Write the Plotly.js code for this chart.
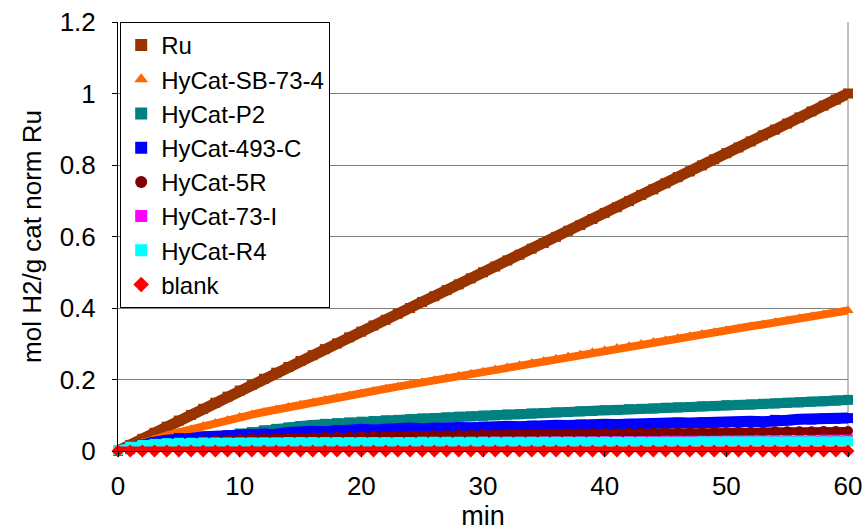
<!DOCTYPE html>
<html>
<head>
<meta charset="utf-8">
<script src="https://cdn.plot.ly/plotly-3.0.1.min.js"></script>
<style>html,body{margin:0;padding:0;background:#fff;}#chart{width:866px;height:531px;}</style>
</head>
<body>
<div id="chart"></div>
<script>
const minutes = [0,1,2,3,4,5,6,7,8,9,10,11,12,13,14,15,16,17,18,19,20,21,22,23,24,25,26,27,28,29,30,31,32,33,34,35,36,37,38,39,40,41,42,43,44,45,46,47,48,49,50,51,52,53,54,55,56,57,58,59,60];

const seriesNames = ["Ru","HyCat-SB-73-4","HyCat-P2","HyCat-493-C","HyCat-5R","HyCat-73-I","HyCat-R4","blank"];

const ru = [0,0.017,0.034,0.051,0.068,0.085,0.101,0.118,0.135,0.152,0.169,0.185,0.202,0.219,0.235,0.252,0.268,0.285,0.301,0.318,0.334,0.351,0.367,0.384,0.400,0.417,0.433,0.450,0.466,0.483,0.500,0.516,0.533,0.549,0.566,0.582,0.599,0.616,0.632,0.649,0.666,0.682,0.699,0.716,0.732,0.749,0.766,0.782,0.799,0.816,0.833,0.849,0.866,0.883,0.899,0.916,0.933,0.950,0.966,0.983,1.000];

const sb73 = [0,0.012,0.023,0.033,0.043,0.052,0.061,0.070,0.078,0.087,0.095,0.102,0.109,0.116,0.123,0.130,0.136,0.143,0.149,0.155,0.161,0.168,0.174,0.180,0.186,0.192,0.198,0.204,0.210,0.216,0.222,0.228,0.234,0.240,0.246,0.252,0.258,0.264,0.270,0.276,0.282,0.288,0.293,0.299,0.305,0.310,0.316,0.321,0.327,0.332,0.338,0.343,0.349,0.354,0.360,0.365,0.371,0.376,0.382,0.387,0.393];

const p2 = [0,0.005,0.010,0.015,0.020,0.025,0.030,0.035,0.040,0.044,0.049,0.053,0.058,0.062,0.066,0.070,0.073,0.076,0.078,0.080,0.082,0.084,0.086,0.087,0.089,0.091,0.092,0.094,0.096,0.097,0.099,0.100,0.102,0.103,0.105,0.106,0.108,0.109,0.111,0.112,0.114,0.115,0.117,0.118,0.119,0.121,0.122,0.123,0.125,0.126,0.128,0.129,0.130,0.132,0.133,0.135,0.136,0.138,0.139,0.141,0.143];

const c493 = [0,0.010,0.018,0.025,0.030,0.036,0.035,0.040,0.038,0.043,0.045,0.044,0.049,0.047,0.052,0.050,0.055,0.054,0.058,0.056,0.061,0.059,0.062,0.060,0.064,0.062,0.065,0.063,0.066,0.065,0.068,0.066,0.069,0.068,0.071,0.069,0.072,0.071,0.074,0.072,0.075,0.074,0.076,0.075,0.078,0.076,0.079,0.078,0.080,0.079,0.081,0.080,0.083,0.082,0.087,0.086,0.089,0.088,0.091,0.090,0.092];

const r5 = [0,0.006,0.011,0.016,0.020,0.023,0.026,0.028,0.030,0.032,0.033,0.034,0.035,0.036,0.037,0.037,0.038,0.039,0.039,0.040,0.041,0.041,0.042,0.042,0.043,0.043,0.044,0.044,0.045,0.045,0.046,0.046,0.047,0.047,0.048,0.048,0.048,0.049,0.049,0.050,0.050,0.050,0.051,0.051,0.051,0.052,0.052,0.052,0.053,0.053,0.053,0.054,0.054,0.054,0.055,0.055,0.055,0.055,0.056,0.056,0.056];

const i73 = [0,0.008,0.013,0.016,0.018,0.019,0.019,0.020,0.020,0.020,0.020,0.020,0.021,0.021,0.021,0.021,0.022,0.022,0.022,0.022,0.023,0.023,0.023,0.023,0.024,0.024,0.024,0.025,0.025,0.025,0.026,0.026,0.026,0.026,0.026,0.027,0.027,0.027,0.027,0.027,0.028,0.028,0.028,0.028,0.028,0.029,0.029,0.029,0.029,0.029,0.030,0.030,0.030,0.030,0.031,0.031,0.031,0.031,0.032,0.032,0.032];

const r4 = [0.003,0.012,0.017,0.020,0.022,0.023,0.023,0.024,0.024,0.024,0.024,0.024,0.024,0.024,0.025,0.025,0.025,0.025,0.025,0.025,0.025,0.025,0.025,0.025,0.025,0.026,0.026,0.026,0.026,0.026,0.026,0.026,0.026,0.026,0.026,0.026,0.026,0.026,0.026,0.026,0.026,0.026,0.026,0.026,0.026,0.026,0.026,0.026,0.027,0.027,0.027,0.027,0.027,0.027,0.027,0.027,0.027,0.027,0.027,0.027,0.027];

const blank = [0,0,0,0,0,0,0,0,0,0,0,0,0,0,0,0,0,0,0,0,0,0,0,0,0,0,0,0,0,0,0,0,0,0,0,0,0,0,0,0,0,0,0,0,0,0,0,0,0,0,0,0,0,0,0,0,0,0,0,0,0];

const allValues = [ru, sb73, p2, c493, r5, i73, r4, blank];
const colors = ["#993300","#FF6600","#008080","#0000FF","#800000","#FF00FF","#00FFFF","#FF0000"];
const symbols = ["square","triangle-up","square","square","circle","square","square","diamond"];
const lineWidths = [11, 8, 10, 11, 8, 8, 9, 9];

const traces = [];
for (let k = 0; k < seriesNames.length; k++) {
  traces.push({
    x: minutes, y: allValues[k], type: "scatter", mode: "lines",
    line: {color: colors[k], width: lineWidths[k]}, showlegend: false, hoverinfo: "skip",
    cliponaxis: false
  });
  traces.push({
    x: minutes, y: allValues[k], type: "scatter", mode: "markers",
    name: seriesNames[k],
    marker: {color: colors[k], symbol: symbols[k], size: 10, line: {width: 0}},
    cliponaxis: false
  });
}

const font = {family: "Liberation Sans, Arial, sans-serif", color: "#000"};

const layout = {
  width: 866, height: 531,
  margin: {l: 118, r: 18, t: 22, b: 80, pad: 0},
  paper_bgcolor: "#fff", plot_bgcolor: "#fff",
  font: Object.assign({size: 24}, font),
  showlegend: true,
  legend: {
    x: 0.003, y: 1, xanchor: "left", yanchor: "top",
    bgcolor: "#fff", bordercolor: "#000", borderwidth: 1,
    font: Object.assign({size: 24}, font),
    tracegroupgap: 0, itemsizing: "constant"
  },
  xaxis: {
    range: [0, 60], tickmode: "linear", tick0: 0, dtick: 10,
    showgrid: false, zeroline: false,
    showline: true, linecolor: "#000", linewidth: 1,
    ticks: "outside", ticklen: 5, tickcolor: "#000",
    tickfont: Object.assign({size: 26}, font),
    ticklabelstandoff: 7,
    title: {text: "min", font: Object.assign({size: 27}, font), standoff: 6}
  },
  yaxis: {
    range: [0, 1.2], tickmode: "linear", tick0: 0, dtick: 0.2,
    showgrid: true, gridcolor: "#808080", gridwidth: 1,
    zeroline: false,
    showline: true, linecolor: "#000", linewidth: 1,
    ticks: "outside", ticklen: 5, tickcolor: "#000",
    tickfont: Object.assign({size: 26}, font),
    ticklabelstandoff: 11,
    title: {text: "mol H2/g cat norm Ru", font: Object.assign({size: 26}, font), standoff: 10}
  },
  shapes: [
    {type: "line", xref: "paper", yref: "paper", x0: 1, x1: 1, y0: 0, y1: 1,
     line: {color: "#808080", width: 1}, layer: "below"}
  ]
};

Plotly.newPlot("chart", traces, layout, {displayModeBar: false, staticPlot: true});
</script>
</body>
</html>
